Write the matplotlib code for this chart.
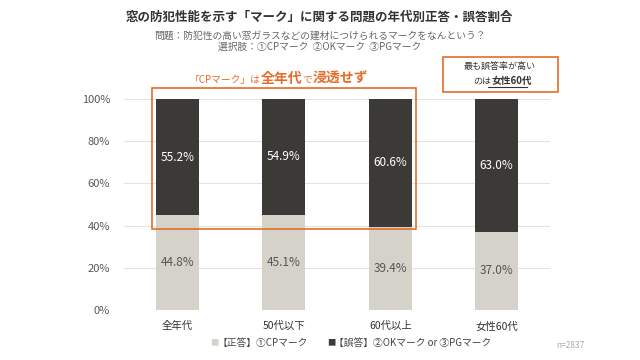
import matplotlib.pyplot as plt
from matplotlib.patches import Rectangle

plt.rcParams['font.family'] = ['Noto Sans CJK JP', 'DejaVu Sans']

groups = ['全年代', '50代以下', '60代以上', '女性60代']
correct = [44.8, 45.1, 39.4, 37.0]
wrong = [55.2, 54.9, 60.6, 63.0]
yticks = [0, 20, 40, 60, 80, 100]

light = '#d5d2ca'
dark = '#3b3a36'
orange = '#e46c2a'
gray = '#595959'

fig = plt.figure(figsize=(6.4, 3.6), dpi=100)
ax = fig.add_axes([124 / 640, 50 / 360, 426 / 640, 211 / 360])

x = range(len(groups))
ax.bar(x, correct, width=0.4, color=light, zorder=2)
ax.bar(x, wrong, width=0.4, bottom=correct, color=dark, zorder=2)
for i in x:
    ax.text(i, correct[i] / 2, f'{correct[i]:.1f}%', ha='center', va='center',
            fontsize=8.5, color='#555555', zorder=3)
    ax.text(i, correct[i] + wrong[i] / 2, f'{wrong[i]:.1f}%', ha='center', va='center',
            fontsize=8.5, color='white', zorder=3)

ax.set_xlim(-0.5, 3.5)
ax.set_ylim(0, 100)
ax.set_yticks(yticks)
ax.set_yticklabels([f'{v}%' for v in yticks], fontsize=8, color=gray)
ax.set_xticks(list(x))
ax.set_xticklabels(groups, fontsize=7.5, color='#333333')
ax.tick_params(length=0, pad=8)
ax.tick_params(axis='y', pad=10)
ax.grid(axis='y', color='#e3e3e3', lw=0.8, zorder=0)
for s in ax.spines.values():
    s.set_visible(False)

# orange highlight box around first three bars
ax.add_patch(Rectangle((-0.24, 38.4), 2.48, 66.8, fill=False, ec=orange, lw=1.2,
                       clip_on=False, zorder=4))

fig.text(0.5, 1 - 17 / 360, '窓の防犯性能を示す「マーク」に関する問題の年代別正答・誤答割合',
         ha='center', va='center', fontsize=9, fontweight='bold', color='#333333')
fig.text(0.5, 1 - 41 / 360, '問題：防犯性の高い窓ガラスなどの建材につけられるマークをなんという？\n選択肢：①CPマーク  ②OKマーク  ③PGマーク',
         ha='center', va='center', fontsize=7, color='#666666', linespacing=1.1)

renderer = fig.canvas.get_renderer()


def chain(parts, x0, y0):
    # place text pieces one after another on the same baseline
    xp = x0
    for s, size, weight, color in parts:
        t = fig.text(xp / 640, 1 - y0 / 360, s, ha='left', va='baseline',
                     fontsize=size, fontweight=weight, color=color)
        xp += t.get_window_extent(renderer).width


chain([('「CPマーク」は', 7, 'normal', orange), ('全年代', 10, 'bold', orange),
       ('で', 7, 'normal', orange), ('浸透せず', 10, 'bold', orange)], 190, 83)

# right callout box
fig.patches.append(Rectangle((443 / 640, 1 - 92 / 360), 115 / 640, 35 / 360,
                             transform=fig.transFigure, fill=False, ec=orange, lw=1.2))
fig.text(500 / 640, 1 - 66 / 360, '最も誤答率が高い', ha='center', va='center',
         fontsize=6.5, color='#333333')
chain([('のは', 6.5, 'normal', '#333333'), ('女性60代', 7, 'bold', '#333333')], 473, 84)
fig.lines.append(plt.Line2D([488 / 640, 527 / 640], [1 - 87 / 360, 1 - 87 / 360],
                            transform=fig.transFigure, color='#333333', lw=0.8))

# legend
ly = 1 - 343 / 360
fig.text(210 / 640, ly, '■', ha='left', va='center', fontsize=6, color=light)
fig.text(217 / 640, ly, '【正答】①CPマーク', ha='left', va='center',
         fontsize=7, color='#444444')
fig.text(327 / 640, ly, '■', ha='left', va='center', fontsize=6, color=dark)
fig.text(334 / 640, ly, '【誤答】②OKマーク or ③PGマーク', ha='left', va='center',
         fontsize=7, color='#444444')
fig.text(570 / 640, 1 - 346 / 360, 'n=2837', ha='center', va='center',
         fontsize=6, color='#aaaaaa')

fig.savefig('out.png', dpi=100)
